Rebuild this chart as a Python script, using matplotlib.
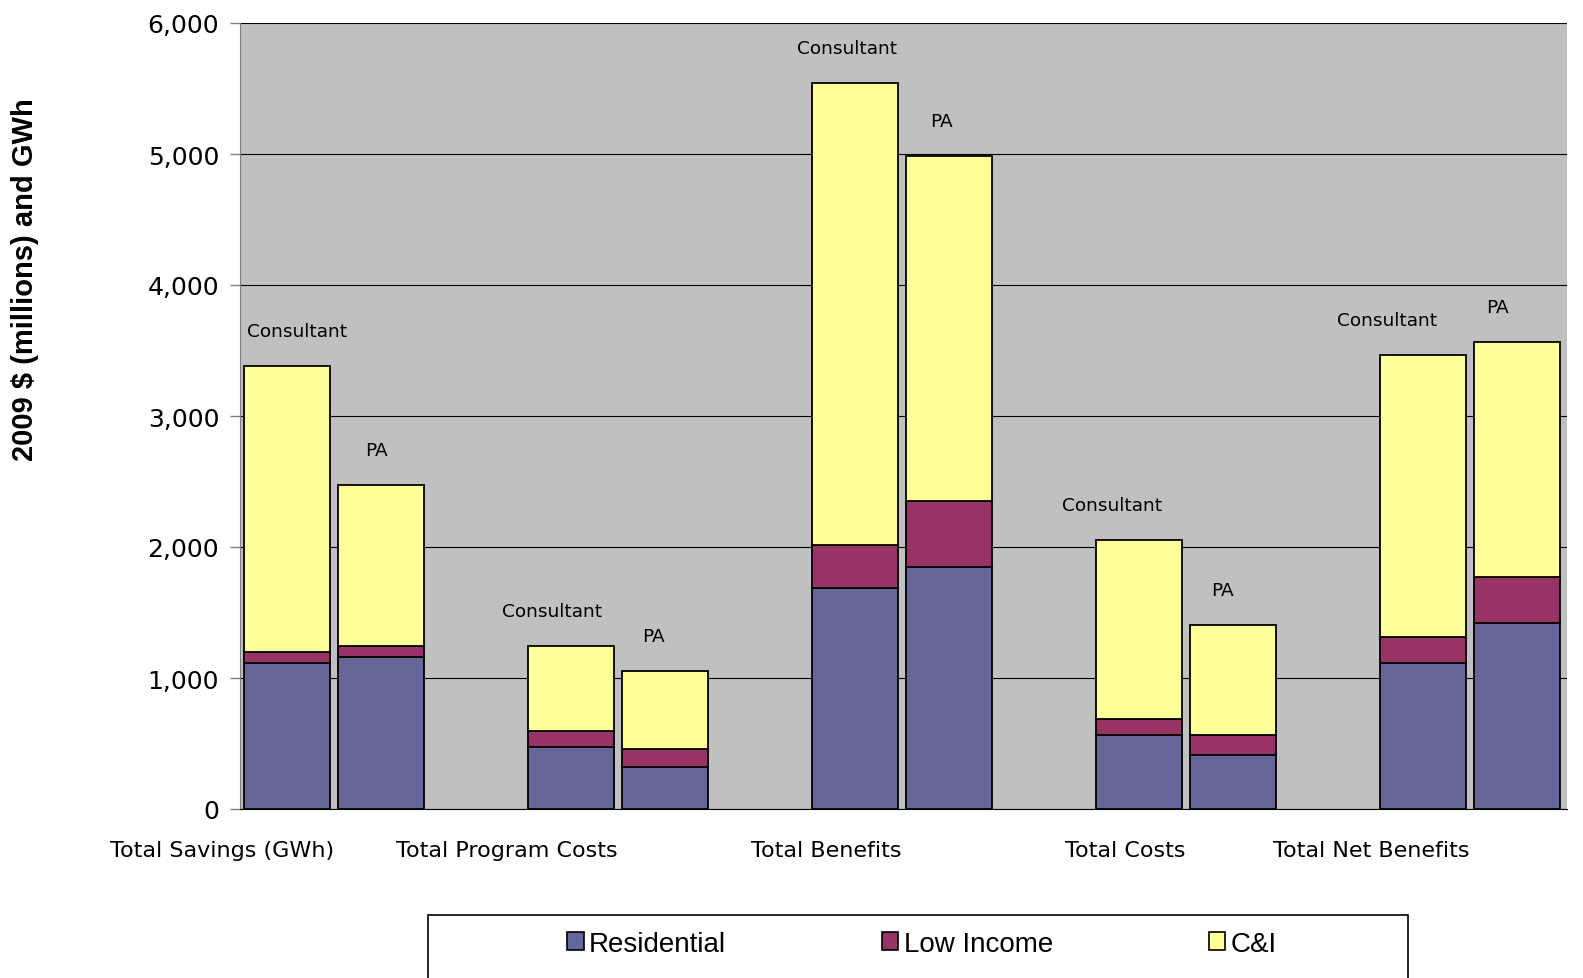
import numpy as np
import matplotlib.pyplot as plt
from matplotlib.patches import Rectangle

# data
categories = ['Total Savings (GWh)', 'Total Program Costs', 'Total Benefits',
              'Total Costs', 'Total Net Benefits']
sources = ['Consultant', 'PA']
residential = {'Consultant': [1115, 473, 1687, 565, 1115],
               'PA': [1160, 321, 1847, 412, 1420]}
low_income = {'Consultant': [83, 122, 328, 122, 198],
              'PA': [84, 137, 504, 153, 351]}
c_and_i = {'Consultant': [2184, 649, 3527, 1366, 2153],
           'PA': [1229, 595, 2634, 840, 1794]}

colors = {'Residential': '#666699', 'Low Income': '#993366', 'C&I': '#FFFF99'}

fig = plt.figure(figsize=(15.83, 9.79), dpi=100)
ax = fig.add_axes([240/1583, 1 - 810/979, (1567 - 240)/1583, (810 - 24)/979])
ax.set_facecolor('#C0C0C0')

x = np.arange(len(categories))
width = 0.303
offsets = {'Consultant': -0.166, 'PA': 0.166}
# label nudges (in group units) to match the hand placed labels
lab_dx = {'Consultant': [0.035, -0.067, -0.028, -0.095, -0.127],
          'PA': [-0.018, -0.042, -0.028, -0.039, -0.07]}

for s in sources:
    res = np.array(residential[s])
    li = np.array(low_income[s])
    ci = np.array(c_and_i[s])
    xs = x + offsets[s]
    ax.bar(xs, res, width, color=colors['Residential'], edgecolor='black', linewidth=1.3, zorder=3)
    ax.bar(xs, li, width, bottom=res, color=colors['Low Income'], edgecolor='black', linewidth=1.3, zorder=3)
    ax.bar(xs, ci, width, bottom=res + li, color=colors['C&I'], edgecolor='black', linewidth=1.3, zorder=3)
    tops = res + li + ci
    for i in range(len(x)):
        ax.text(xs[i] + lab_dx[s][i], tops[i] + 200, s, ha='center', va='bottom',
                fontsize=13.3, color='black')

ax.set_xlim(-0.331, 4.342)
ax.set_ylim(0, 6000)
ax.set_yticks(np.arange(0, 6001, 1000))
ax.set_yticklabels([f'{v:,}' for v in range(0, 6001, 1000)], fontsize=18)
ax.yaxis.grid(True, color='black', linewidth=0.8, zorder=0)
ax.set_axisbelow(True)
ax.tick_params(axis='y', direction='out', length=7, width=1, color='#808080', pad=8)

ax.set_xticks(x)
ax.set_xticklabels(categories, fontsize=16, ha='right')
ax.tick_params(axis='x', length=0, pad=22)

for side in ['top', 'right']:
    ax.spines[side].set_visible(False)
ax.spines['left'].set_color('#808080')
ax.spines['bottom'].set_color('black')
ax.spines['bottom'].set_linewidth(0.8)

fig.text(25/1583, 1 - 280/979, '2009 $ (millions) and GWh', rotation=90,
         ha='center', va='center', fontsize=21, fontweight='bold',
         family=['Liberation Sans', 'DejaVu Sans'])

# legend with a box running off the bottom edge
fig.patches.append(Rectangle((428/1583, -0.02), (1408 - 428)/1583, 0.02 + (979 - 916)/979,
                             transform=fig.transFigure, facecolor='white',
                             edgecolor='black', linewidth=1.2, clip_on=False))
handles = [Rectangle((0, 0), 1, 1, facecolor=colors[k], edgecolor='black', linewidth=1.2)
           for k in ['Residential', 'Low Income', 'C&I']]
fig.legend(handles, ['Residential', 'Low Income', 'C&I'], ncol=3,
           loc='center', bbox_to_anchor=(922/1583, 1 - 945/979), frameon=False,
           prop={'family': ['Liberation Sans', 'DejaVu Sans'], 'size': 20},
           handlelength=0.6, handleheight=0.6, handletextpad=0.2, columnspacing=5.6)

fig.savefig('out.png', dpi=100)
